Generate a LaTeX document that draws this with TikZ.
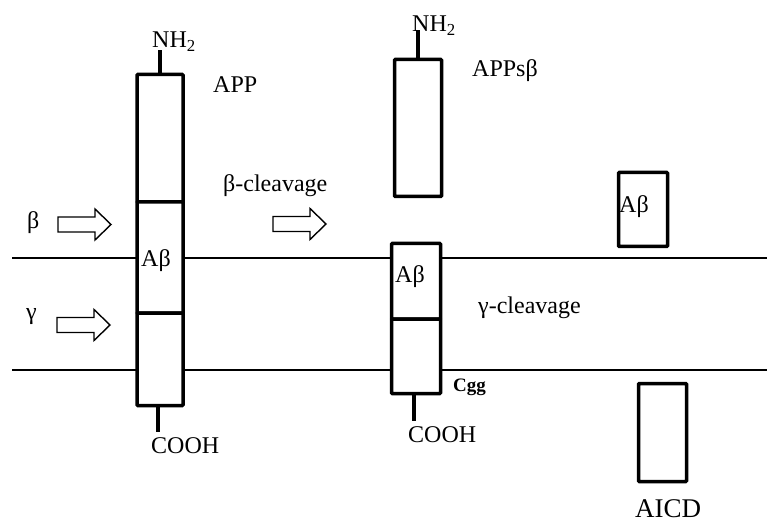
\documentclass[tikz,border=0pt]{standalone}
\usepackage{fontspec}
\setmainfont{Liberation Serif}
\begin{document}
\begin{tikzpicture}[x=1pt,y=-1pt,
  seg/.style={draw, line width=3.5pt, fill=white, inner sep=0pt, rounded corners=0.8pt},
  membrane/.style={line width=1.2pt},
  stem/.style={line width=4.5pt},
  lbl/.style={inner sep=0pt, anchor=base west, font=\fontsize{24}{28}\selectfont},
  blk/.style={draw, line width=1.4pt, fill=white, line join=miter},
  blockarrow/.pic={\draw[blk] (0,-7.5) -- (37,-7.5) -- (37,-15.5) -- (53,0) -- (37,15.5) -- (37,7.5) -- (0,7.5) -- cycle;}
]
\useasboundingbox (0,0) rectangle (767,526);
% membranes
\draw[membrane] (12,258) -- (767,258);
\draw[membrane] (12,370) -- (767,370);

% left APP
\node[seg, minimum width=46pt, minimum height=127.5pt] (appTop) at (160,138.25) {};
\node[seg, minimum width=46pt, minimum height=111pt] (appMid) at (160,257.5) {};
\node[seg, minimum width=46pt, minimum height=92.5pt] (appBot) at (160,359.25) {};
\draw[stem] (appTop.north) -- ++(0,-23);
\draw[stem] ([xshift=-2pt]appBot.south) -- ++(0,25);
\node[lbl] (nhL) at (152,48) {NH\textsubscript{2}};
\node[lbl] (coohL) at (151,453) {COOH};
\node[lbl] (app) at (213,93) {APP};
\node[lbl] (abL) at (141,266) {Aβ};

% left arrows
\node[lbl] (beta) at (27,229) {β};
\node[lbl] (gamma) at (26,319) {γ};
\pic at (58,224.5) {blockarrow};
\pic at (57,325) {blockarrow};

% beta cleavage
\node[lbl] (bcl) at (223,192) {β-cleavage};
\pic at (273,224) {blockarrow};

% middle APPs beta
\node[seg, minimum width=47pt, minimum height=137pt] (apps) at (418,128) {};
\draw[stem] (apps.north) -- ++(0,-27.5);
\node[lbl] (nhM) at (412,32) {NH\textsubscript{2}};
\node[lbl] (appsb) at (472,77) {APPsβ};

% middle C99
\node[seg, minimum width=49pt, minimum height=75.5pt] (cTop) at (416,281.25) {};
\node[seg, minimum width=49pt, minimum height=74.5pt] (cBot) at (416,356.25) {};
\draw[stem] ([xshift=-2pt]cBot.south) -- ++(0,26);
\node[lbl] (abM) at (395,282) {Aβ};
\node[lbl] (coohM) at (408,442) {COOH};
\node[inner sep=0pt, anchor=base west, font=\bfseries\fontsize{19}{22}\selectfont] (cgg) at (453,391) {Cgg};
\node[lbl] (gcl) at (478,313) {γ-cleavage};

% right products
\node[seg, minimum width=49pt, minimum height=74pt] (abBox) at (643,209.5) {};
\node[lbl] (abR) at (619,213) {Aβ};
\node[seg, minimum width=48pt, minimum height=98pt] (aicdBox) at (662.5,432.5) {};
\node[inner sep=0pt, anchor=base west, font=\fontsize{27}{32}\selectfont] (aicd) at (635,517) {AICD};
\end{tikzpicture}
\end{document}
